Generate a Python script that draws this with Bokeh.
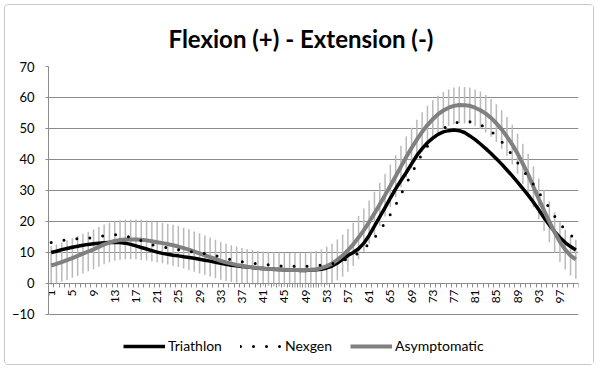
from bokeh.plotting import figure
from bokeh.models import Range1d, FixedTicker, Legend, LegendItem, ColumnDataSource
from bokeh.embed import file_html
from bokeh.resources import INLINE

categories = list(range(1, 101))
tick_labels = list(range(1, 101, 4))

triathlon = [10.0, 10.4, 10.9, 11.3, 11.7, 12.0, 12.3, 12.6, 12.8, 13.0,
             13.1, 13.2, 13.3, 13.2, 13.0, 12.6, 12.1, 11.6, 11.1, 10.6,
             10.1, 9.7, 9.4, 9.1, 8.9, 8.6, 8.4, 8.1, 7.8, 7.5,
             7.2, 6.8, 6.5, 6.2, 5.9, 5.7, 5.5, 5.3, 5.1, 4.9,
             4.8, 4.7, 4.6, 4.5, 4.4, 4.3, 4.3, 4.2, 4.2, 4.3,
             4.4, 4.6, 5.0, 5.6, 6.6, 7.8, 9.0, 10.0, 11.2, 13.0,
             15.5, 18.5, 21.5, 24.5, 27.5, 30.5, 33.2, 35.8, 38.6, 41.3,
             43.5, 45.4, 46.9, 48.1, 48.9, 49.3, 49.5, 49.3, 48.7, 47.6,
             46.4, 45.0, 43.5, 41.9, 40.2, 38.5, 36.6, 34.7, 32.7, 30.6,
             28.5, 26.2, 23.8, 21.2, 18.9, 16.7, 14.8, 13.2, 11.9, 10.8]

nexgen = [13.2, 13.5, 13.8, 14.1, 14.3, 14.4, 14.5, 14.6, 14.8, 15.1,
          15.4, 15.6, 15.7, 15.6, 15.3, 14.9, 14.4, 13.8, 13.2, 12.5,
          12.0, 11.7, 11.5, 11.2, 10.9, 10.6, 10.4, 10.1, 9.9, 9.6,
          9.4, 9.0, 8.6, 8.1, 7.6, 7.3, 7.0, 6.7, 6.5, 6.3,
          6.1, 6.0, 5.8, 5.7, 5.6, 5.6, 5.5, 5.5, 5.5, 5.6,
          5.7, 5.9, 6.1, 6.4, 6.8, 7.3, 7.9, 8.6, 9.9, 11.3,
          12.8, 14.7, 17.0, 19.6, 22.3, 25.3, 28.7, 32.2, 35.3, 38.7,
          41.8, 44.3, 46.5, 48.5, 50.0, 51.0, 51.7, 52.1, 52.3, 52.2,
          51.8, 51.2, 50.3, 49.1, 47.6, 45.8, 43.7, 41.4, 39.0, 36.6,
          34.3, 32.0, 29.4, 26.9, 24.4, 21.7, 19.3, 17.3, 15.6, 14.4]

asymptomatic = [5.8, 6.3, 6.9, 7.5, 8.2, 8.9, 9.6, 10.3, 11.0, 11.8,
                12.6, 13.2, 13.7, 14.0, 14.2, 14.2, 14.2, 14.1, 13.9, 13.6,
                13.3, 13.0, 12.7, 12.3, 11.9, 11.4, 10.9, 10.3, 9.7, 9.1,
                8.5, 7.9, 7.3, 6.8, 6.4, 6.0, 5.7, 5.4, 5.2, 5.0,
                4.8, 4.7, 4.6, 4.5, 4.4, 4.3, 4.3, 4.3, 4.3, 4.4,
                4.6, 5.0, 5.6, 6.4, 7.6, 9.0, 10.7, 12.6, 14.8, 17.2,
                19.8, 22.6, 25.5, 28.5, 31.5, 34.6, 37.7, 40.8, 43.7, 46.4,
                48.9, 51.1, 53.0, 54.6, 55.8, 56.7, 57.3, 57.6, 57.5, 57.3,
                56.7, 55.9, 54.8, 53.4, 51.7, 49.7, 47.4, 44.8, 41.9, 38.6,
                35.2, 31.2, 27.3, 23.5, 19.9, 16.5, 13.4, 10.9, 9.0, 7.8]

asymptomatic_sd = [6.2, 6.3, 6.3, 6.4, 6.4, 6.4, 6.4, 6.4, 6.4, 6.4,
                   6.4, 6.4, 6.4, 6.4, 6.4, 6.4, 6.4, 6.5, 6.5, 6.5,
                   6.5, 6.5, 6.6, 6.6, 6.6, 6.6, 6.6, 6.5, 6.5, 6.4,
                   6.3, 6.2, 6.1, 6.0, 5.9, 5.8, 5.7, 5.6, 5.6, 5.5,
                   5.5, 5.5, 5.5, 5.5, 5.5, 5.5, 5.6, 5.6, 5.7, 5.8,
                   5.9, 6.0, 6.2, 6.4, 6.6, 6.8, 6.9, 7.0, 7.0, 7.0,
                   7.0, 7.0, 7.0, 6.9, 6.9, 6.8, 6.7, 6.6, 6.5, 6.4,
                   6.3, 6.2, 6.1, 6.0, 6.0, 5.9, 5.9, 5.9, 5.9, 5.9,
                   5.9, 6.0, 6.0, 6.1, 6.1, 6.2, 6.3, 6.4, 6.5, 6.5,
                   6.6, 6.6, 6.6, 6.6, 6.6, 6.5, 6.5, 6.4, 6.4, 6.3]

y_ticks = [-10, 0, 10, 20, 30, 40, 50, 60, 70]

FONT = "Lato"
GRID = "#8c8c8c"

# the frame extends below -10 to leave room for the legend; the axis stops at -10
p = figure(width=590, height=361, output_backend="svg", toolbar_location=None,
           x_range=Range1d(0.5, 100.5), y_range=Range1d(-26.8, 70),
           min_border_left=43, min_border_right=17, min_border_top=61, min_border_bottom=0,
           title="Flexion (+) - Extension (-)",
           styles={"margin": "4px", "border": "1px solid #c8c8c8", "border-radius": "4px"})
p.outline_line_color = None
p.title.align = "left"
p.title.offset = 120
p.title.text_font = FONT
p.title.text_font_size = "24px"
p.title.text_font_style = "bold"
p.title.text_color = "#000000"
p.title.standoff = 28

# error bars
lo = [a - s for a, s in zip(asymptomatic, asymptomatic_sd)]
hi = [a + s for a, s in zip(asymptomatic, asymptomatic_sd)]
src = ColumnDataSource(dict(x=categories, lo=lo, hi=hi))
p.segment(x0="x", y0="lo", x1="x", y1="hi", source=src, line_color="#bababa", line_width=1.5)

r_tri = p.line(categories, triathlon, line_color="#000000", line_width=3.5)
r_asy = p.line(categories, asymptomatic, line_color="#808080", line_width=4)
r_nex = p.line(categories, nexgen, line_color="#000000", line_width=3, line_dash="0 13", line_cap="round")

# axes
p.xgrid.visible = False
p.ygrid.grid_line_color = GRID
p.ygrid.grid_line_width = 1
p.ygrid.ticker = FixedTicker(ticks=y_ticks)

p.yaxis.ticker = FixedTicker(ticks=y_ticks)
p.yaxis.bounds = (y_ticks[0], y_ticks[-1])
p.yaxis.axis_line_color = GRID
p.yaxis.major_tick_line_color = GRID
p.yaxis.major_tick_out = 3
p.yaxis.major_tick_in = 0
p.yaxis.minor_tick_line_color = None
p.yaxis.major_label_standoff = 11
p.yaxis.major_label_text_font = FONT
p.yaxis.major_label_text_font_size = "13px"
p.yaxis.major_label_text_color = "#000000"

xax = p.xaxis[0]
xax.ticker = FixedTicker(ticks=tick_labels, minor_ticks=[c - 0.5 for c in categories] + [100.5])
xax.fixed_location = 0
xax.axis_line_color = GRID
xax.major_tick_line_color = None
xax.major_tick_out = 4
xax.major_tick_in = 0
xax.minor_tick_line_color = GRID
xax.minor_tick_out = 4
xax.minor_tick_in = 0
xax.major_label_orientation = 3.14159265 / 2
xax.major_label_standoff = 2
xax.major_label_text_font = FONT
xax.major_label_text_font_size = "12px"
xax.major_label_text_color = "#000000"

legend = Legend(items=[LegendItem(label="Triathlon", renderers=[r_tri]),
                       LegendItem(label="Nexgen", renderers=[r_nex]),
                       LegendItem(label="Asymptomatic", renderers=[r_asy])],
                orientation="horizontal", location=(75, 12),
                glyph_width=42, glyph_height=14, label_standoff=3, spacing=18,
                padding=0, margin=0, border_line_color=None, background_fill_alpha=0,
                label_text_font=FONT, label_text_font_size="14px", label_text_color="#000000")
p.add_layout(legend)

open("out.html", "w").write(file_html(p, INLINE))
